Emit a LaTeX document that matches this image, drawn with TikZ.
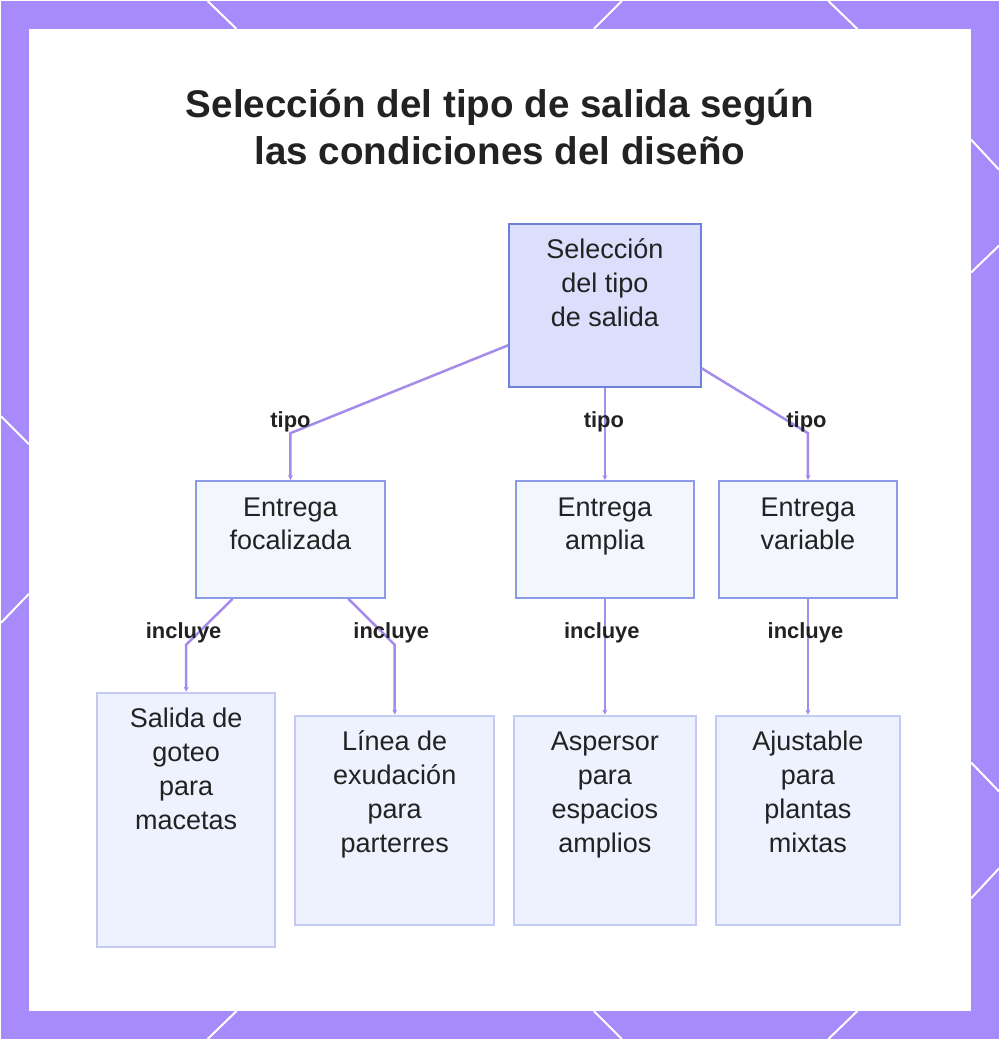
\documentclass[tikz,border=0pt]{standalone}
\usepackage{fontspec}
\setmainfont{Liberation Sans}
\usepackage{xcolor}
\definecolor{frame}{HTML}{A78BFA}
\definecolor{rootfill}{HTML}{DCDFFB}
\definecolor{rootline}{HTML}{6E80DA}
\definecolor{midfill}{HTML}{F4F6FE}
\definecolor{midline}{HTML}{8B9BE9}
\definecolor{leaffill}{HTML}{EEF1FE}
\definecolor{leafline}{HTML}{C3CBF5}
\definecolor{connline}{HTML}{A58BEA}
\definecolor{ink}{HTML}{222222}
\usetikzlibrary{positioning}
\usetikzlibrary{arrows.meta}
\tikzset{
	box/.style={draw, line width=0.04cm, inner xsep=0pt, inner ysep=0.18cm, text height=0.52cm, text=ink, font=\fontsize{15.4}{19.35}\selectfont},
	rootbox/.style={box, fill=rootfill, draw=rootline, minimum width=3.84cm, text depth=2.4cm},
	midbox/.style={box, fill=midfill, draw=midline, text depth=1.46cm},
	leafbox/.style={box, fill=leaffill, draw=leafline, text depth=3.32cm},
	conn/.style={draw=connline, line width=0.05cm, -{Stealth[length=0.1cm,width=0.1cm]}},
	tag/.style={font=\bfseries\fontsize{12.5}{15}\selectfont, text=ink, inner sep=0pt},
	heading/.style={font=\bfseries\fontsize{22}{27}\selectfont, text=ink, align=center, inner sep=0pt}
}
\newcommand{\boxtext}[1]{\parbox[t]{3cm}{\centering #1}}

\begin{document}
\begin{tikzpicture}[x=0.02cm, y=-0.02cm]
	% frame
	\fill[frame] (0,0) rectangle (1000,1040);
	\fill[white] (28,28) rectangle (972,1012);
	\draw[white, line width=0.04cm] (207,0) -- (236,28) (622,0) -- (594,28) (829,0) -- (858,28);
	\draw[white, line width=0.04cm] (236,1012) -- (207,1040) (594,1012) -- (622,1040) (858,1012) -- (829,1040);
	\draw[white, line width=0.04cm] (0,416) -- (28,444) (28,594) -- (0,623);
	\draw[white, line width=0.04cm] (972,139) -- (1000,169) (972,272) -- (1000,245) (972,763) -- (1000,792) (972,899) -- (1000,869);

	% title
	\node[heading] (title) at (500,126) {Selección del tipo de salida según\\las condiciones del diseño};

	% top
	\node[rootbox] (root) at (605,305) {\boxtext{Selección\\del tipo\\de salida}};

	% middle row
	\node[midbox, minimum width=3.8cm] (focal) at (290,539.5) {\boxtext{Entrega\\focalizada}};
	\node[midbox, minimum width=3.56cm] (amplia) at (605,539.5) {\boxtext{Entrega\\amplia}};
	\node[midbox, minimum width=3.58cm] (variable) at (808.5,539.5) {\boxtext{Entrega\\variable}};

	% bottom row
	\node[leafbox, minimum width=3.58cm, text depth=4.22cm] (salida) at (185.5,820.5) {\boxtext{Salida de\\goteo\\para\\macetas}};
	\node[leafbox, minimum width=3.98cm] (linea) at (394.5,821) {\boxtext{Línea de\\exudación\\para\\parterres}};
	\node[leafbox, minimum width=3.64cm] (aspersor) at (605,821) {\boxtext{Aspersor\\para\\espacios\\amplios}};
	\node[leafbox, minimum width=3.7cm] (ajustable) at (808.5,821) {\boxtext{Ajustable\\para\\plantas\\mixtas}};

	% connectors
	\coordinate (k1) at (290,433);
	\coordinate (k3) at (808.5,433);
	\coordinate (k4) at (185.5,645);
	\coordinate (k5) at (394.5,645);
	\draw[conn] ([yshift=-0.8cm]root.west) -- (k1) -- (focal.north);
	\draw[conn] (root.south) -- (amplia.north);
	\draw[conn] ([yshift=-1.26cm]root.east) -- (k3) -- (variable.north);
	\draw[conn] ([xshift=-1.16cm]focal.south) -- (k4) -- (salida.north);
	\draw[conn] ([xshift=1.16cm]focal.south) -- (k5) -- (linea.north);
	\draw[conn] (amplia.south) -- (aspersor.north);
	\draw[conn] (variable.south) -- (ajustable.north);

	% labels
	\node[tag] (tipo1) at (290,422) {tipo};
	\node[tag] (tipo2) at (604,422) {tipo};
	\node[tag] (tipo3) at (807,422) {tipo};
	\node[tag] (incl1) at (183,633) {incluye};
	\node[tag] (incl2) at (391,633) {incluye};
	\node[tag] (incl3) at (602,633) {incluye};
	\node[tag] (incl4) at (806,633) {incluye};
\end{tikzpicture}
\end{document}
